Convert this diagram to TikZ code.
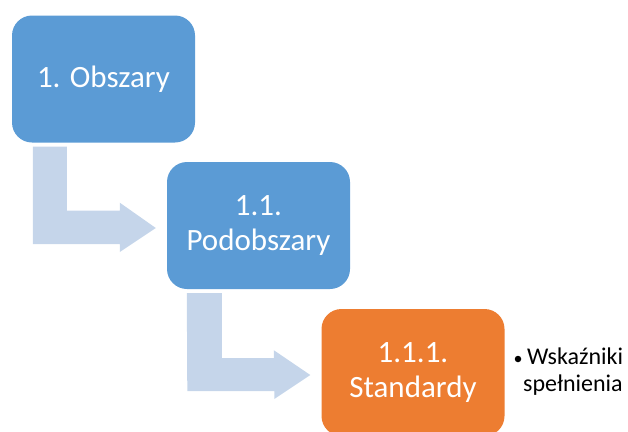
\documentclass[tikz,border=0pt]{standalone}
\usepackage{fontspec}
\setmainfont{Carlito}
\usetikzlibrary{calc}
\definecolor{boxblue}{HTML}{5B9BD5}
\definecolor{boxorange}{HTML}{ED7D31}
\definecolor{arrowblue}{HTML}{C5D5EA}
\begin{document}
\begin{tikzpicture}[x=1pt,y=-1pt,
  box/.style={rounded corners=20pt, minimum width=183pt, minimum height=127pt,
    inner sep=0pt, text=white, align=center,
    font=\fontsize{31}{35}\selectfont},
  bent/.style={fill=arrowblue, draw=none}]
\useasboundingbox (0,0) rectangle (628,431);
\node[box, fill=boxblue] (b1) at (103.5,79) {1. Obszary};
\node[box, fill=boxblue] (b2) at (258.5,225.5) {1.1.\\Podobszary};
\node[box, fill=boxorange] (b3) at (413,372.5) {1.1.1.\\Standardy};
% bent arrows
\fill[bent] ($(b1.south west)+(21,4)$) -- ++(34,0) -- ++(0,64) -- ++(53,0) -- ++(0,-8)
  -- ($(b2.west)+(-11,2.5)$) -- ++(-36,24) -- ++(0,-8) -- ++(-87,0) -- cycle;
\fill[bent] ($(b2.south west)+(20,4)$) -- ++(35,0) -- ++(0,65) -- ++(52,0) -- ++(0,-8)
  -- ($(b3.west)+(-11,2.5)$) -- ++(-36,24) -- ++(0,-8) -- ++(-87,0) -- cycle;
\node[circle, fill=black, inner sep=0pt, minimum size=6.5pt] (bul) at (518,359) {};
\node[anchor=north west, inner sep=0pt, align=left, font=\fontsize{24}{27}\selectfont] (ind) at (523,348)
  {\hspace{4pt}Wskaźniki\\spełnienia};
\end{tikzpicture}
\end{document}
